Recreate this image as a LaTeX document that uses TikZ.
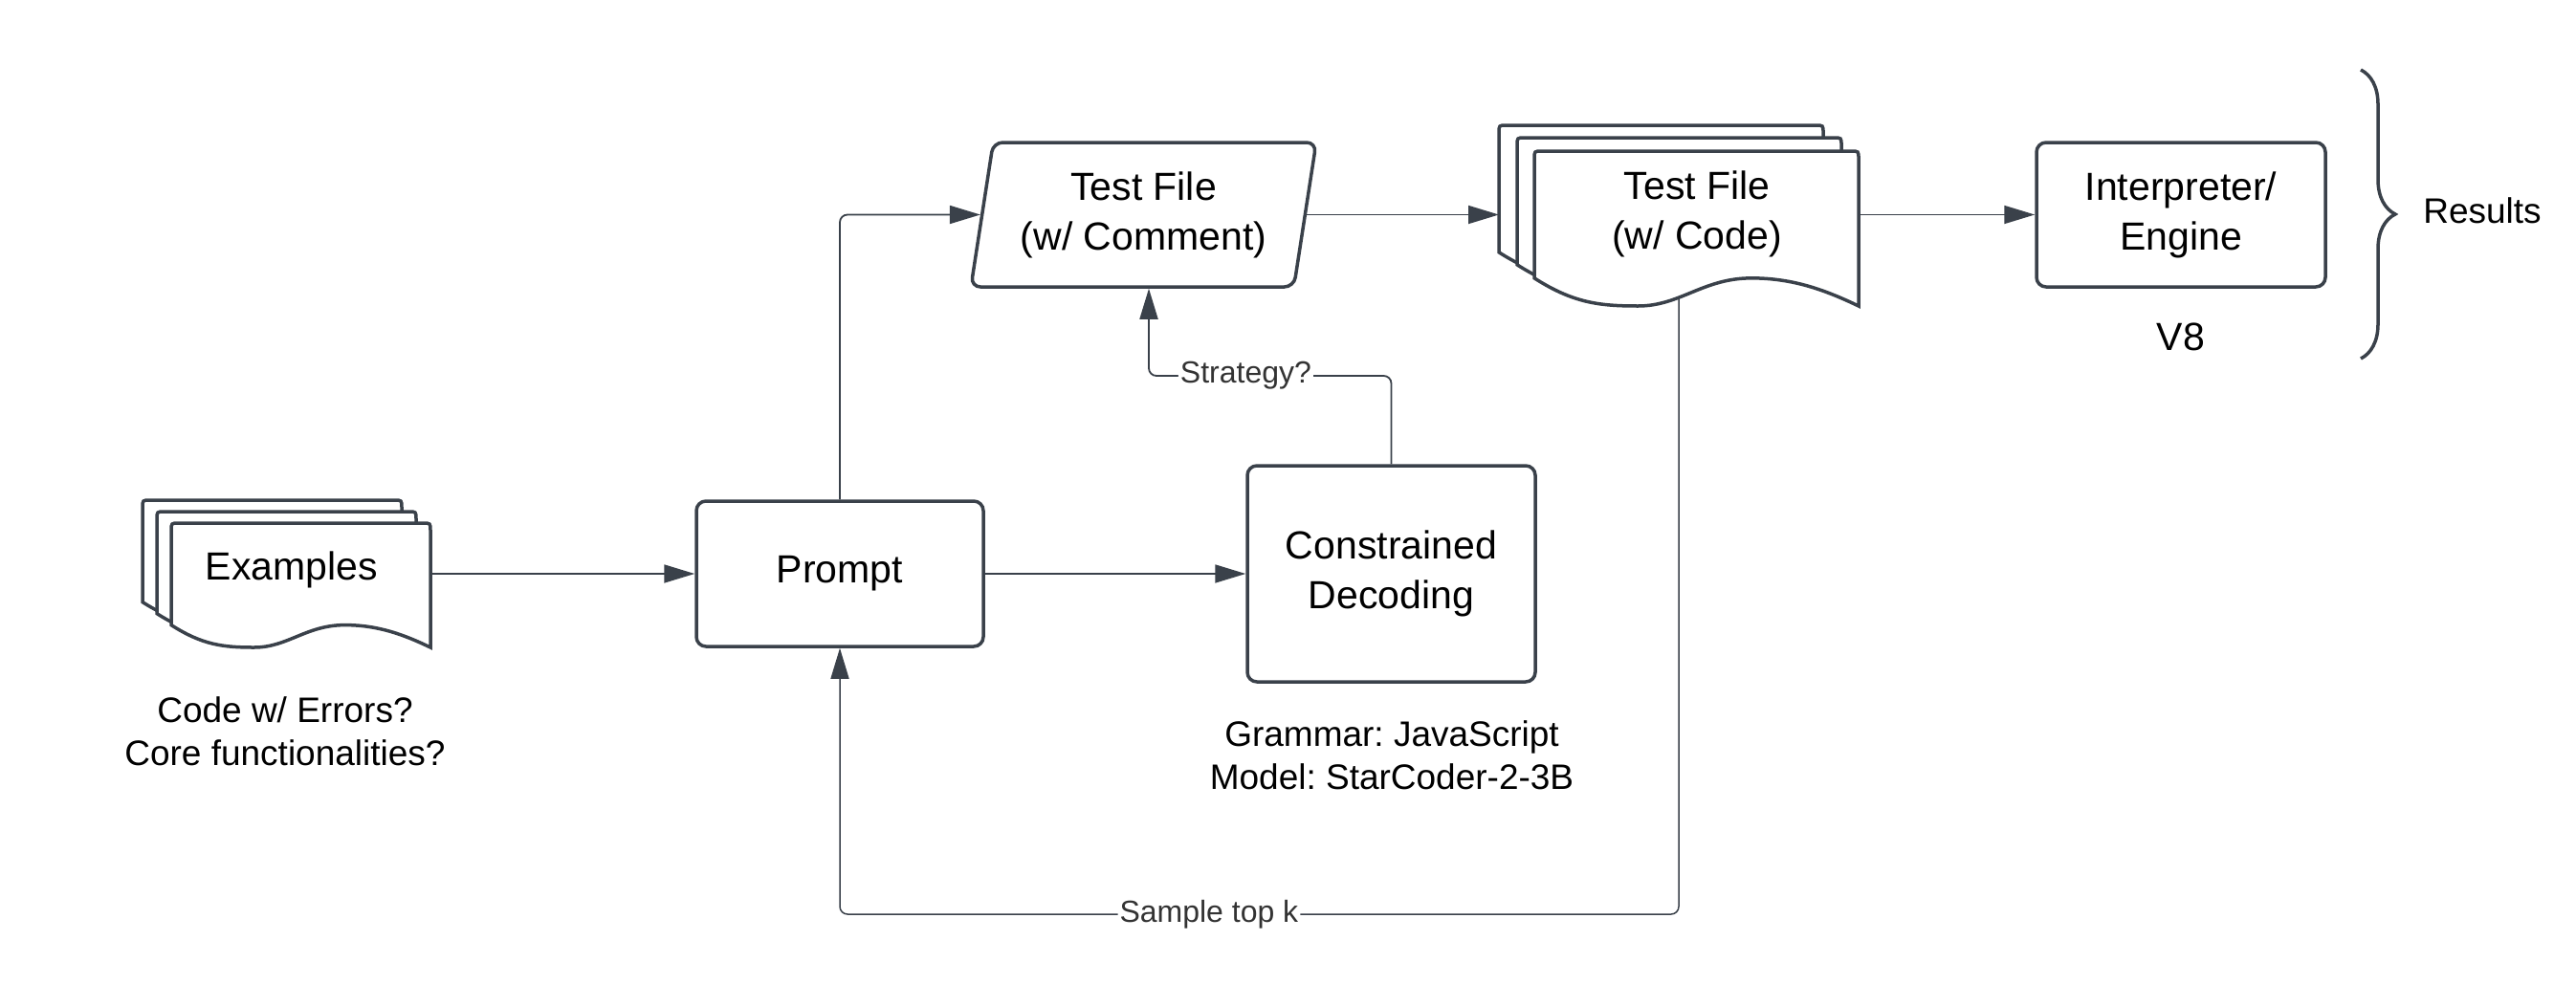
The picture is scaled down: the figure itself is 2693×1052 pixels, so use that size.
\documentclass[tikz,border=0pt]{standalone}
\usepackage{fontspec}
\setmainfont{Liberation Sans}
\frenchspacing
\usetikzlibrary{shapes.geometric,arrows.meta,decorations.pathreplacing}
\definecolor{lucidline}{HTML}{3A414A}
\definecolor{lucidtag}{HTML}{333333}
\newcommand{\boxfont}{\fontsize{41}{52}\selectfont}
\newcommand{\notefont}{\fontsize{37}{45}\selectfont}
\newcommand{\tagfont}{\fontsize{32}{38}\selectfont}
\tikzstyle{box}=[draw=lucidline,line width=3.5pt,rounded corners=10pt,fill=white,align=center,font=\boxfont,inner sep=0pt]
\tikzstyle{slanted}=[box,trapezium,trapezium left angle=75.5,trapezium right angle=104.5,trapezium stretches body=true]
\tikzstyle{pageanchor}=[inner sep=0pt,outer sep=0pt]
\tikzstyle{pageline}=[draw=lucidline,line width=3.5pt,fill=white]
\tikzstyle{txt}=[align=center,font=\boxfont]
\tikzstyle{note}=[align=center,font=\notefont]
\tikzstyle{flow}=[draw=lucidline,line width=1.8pt,rounded corners=8pt,-{Triangle[length=32pt,width=19pt]}]
\tikzstyle{tag}=[fill=white,inner sep=2pt,font=\tagfont,text=lucidtag]
% one sheet of a document stack: name, left, top, width, height
\newcommand{\docpage}[5]{%
  \node[pageanchor,minimum width=#4pt,minimum height=#5pt] (#1) at ({#2+#4/2},{#3+#5/2}) {};
  \filldraw[pageline]
    (#2,{#3+0.82*#5})
    .. controls ({#2+0.12*#4},{#3+0.98*#5}) and ({#2+0.2*#4},{#3+#5}) .. ({#2+0.32*#4},{#3+#5})
    .. controls ({#2+0.45*#4},{#3+#5}) and ({#2+0.52*#4},{#3+0.82*#5}) .. ({#2+0.67*#4},{#3+0.82*#5})
    .. controls ({#2+0.8*#4},{#3+0.82*#5}) and ({#2+0.9*#4},{#3+0.9*#5}) .. ({#2+#4},{#3+#5})
    -- ({#2+#4},{#3+8})
    .. controls ({#2+#4},#3) .. ({#2+#4-8},#3)
    -- ({#2+8},#3)
    .. controls (#2,#3) .. (#2,{#3+8})
    -- cycle;
}

\begin{document}
\begin{tikzpicture}[x=1pt,y=-1pt]
  \useasboundingbox (0,0) rectangle (2693,1052);

  % document stacks
  \docpage{exA}{149}{523}{271}{130}
  \docpage{exB}{164}{535}{271}{130}
  \docpage{exC}{179}{547}{271}{130}
  \docpage{codeA}{1567}{131}{339}{162}
  \docpage{codeB}{1586}{144}{339}{162}
  \docpage{codeC}{1604}{158}{339}{162}

  \node[txt] (extext) at (305,596) {Examples};
  \node[txt] (codetext) at (1774,224) {Test File\\(w/ Code)};

  \node[box,minimum width=300pt,minimum height=152pt] (prompt) at (878,600) {Prompt};
  \node[box,minimum width=301pt,minimum height=226pt] (decode) at (1454.5,600) {Constrained\\Decoding};
  \node[slanted,minimum width=361pt,minimum height=151pt] (comment) at (1195.5,224.5) {Test File\\(w/ Comment)};
  \node[box,minimum width=302pt,minimum height=151pt] (run) at (2280,224.5) {Interpreter/\\Engine};

  \node[note] (exnote) at (298,765) {Code w/ Errors?\\Core functionalities?};
  \node[note] (decnote) at (1455,790) {Grammar: JavaScript\\Model: StarCoder-2-3B};
  \node[txt] (runnote) at (2280,352) {V8};
  \node[note] (results) at (2595,220) {Results};

  \coordinate (stratcorner) at (1201,393);
  \coordinate (loopcorner) at (1755,956);

  \draw[flow] (exC.east |- prompt.west) -- (prompt.west);
  \draw[flow] (prompt.east) -- (decode.west);
  \draw[flow] (prompt.north) |- (comment.left side);
  \draw[flow] (comment.right side) -- (comment.right side -| codeA.west);
  \draw[flow] (codeC.east |- run.west) -- (run.west);
  \draw[flow] (decode.north) |- node[tag,pos=0.8] {Strategy?} (stratcorner) -- (stratcorner |- comment.bottom side);
  \draw[flow,line width=1.5pt] ([xshift=-18.5pt,yshift=8pt]codeC.south) -- (loopcorner) -| node[tag,pos=0.28] {Sample top k} (prompt.south);

  % results brace
  \draw[lucidline,line width=3.5pt,decorate,decoration={brace,amplitude=36pt}] (2468,73) -- (2468,375);
\end{tikzpicture}
\end{document}
